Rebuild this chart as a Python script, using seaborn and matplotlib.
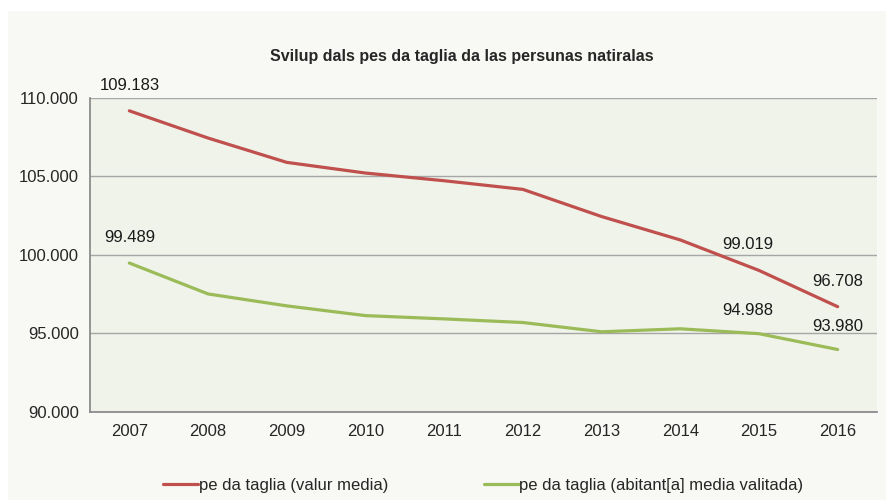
import pandas as pd
import matplotlib.pyplot as plt
import matplotlib.ticker as mticker
from matplotlib.patches import Rectangle
import seaborn as sns

years = ['2007', '2008', '2009', '2010', '2011', '2012', '2013', '2014', '2015', '2016']
valur_media = [109183, 107450, 105900, 105220, 104730, 104180, 102450, 100960, 99019, 96708]
abitant_media = [99489, 97520, 96760, 96140, 95930, 95700, 95110, 95300, 94988, 93980]
series_names = ['pe da taglia (valur media)', 'pe da taglia (abitant[a] media valitada)']

# values that get a label on the chart
labels_red = {'2007': 109183, '2015': 99019, '2016': 96708}
labels_green = {'2007': 99489, '2015': 94988, '2016': 93980}

sns.set_theme(style='white')
plt.rcParams['font.family'] = ['Liberation Sans', 'DejaVu Sans']

df = pd.DataFrame({
    'pos': list(range(len(years))) * 2,
    'year': years * 2,
    'value': valur_media + abitant_media,
    'serie': [series_names[0]] * len(years) + [series_names[1]] * len(years),
})

fig = plt.figure(figsize=(8.86, 5), dpi=100, facecolor='white')
fig.patches.append(Rectangle((8 / 886, 0), 1, 1 - 11 / 500, transform=fig.transFigure,
                             facecolor='#f8f9f5', edgecolor='none', zorder=-1))
ax = fig.add_axes([90 / 886, 88 / 500, 787 / 886, 314 / 500])
ax.set_facecolor('#eff3ea')

sns.lineplot(data=df, x='pos', y='value', hue='serie',
             palette=['#c0504d', '#9bbb59'], linewidth=2.3, ax=ax)

for lab, col in [(labels_red, '#c0504d'), (labels_green, '#9bbb59')]:
    for y, v in lab.items():
        i = years.index(y)
        dx = -8 if y == '2015' else 0
        dy = 11 if lab is labels_green and y != '2007' else 13
        txt = f'{v:,}'.replace(',', '.')
        ax.annotate(txt, (i, v), xytext=(dx, dy), textcoords='offset points',
                    ha='center', va='bottom', fontsize=12, color='#1a1a1a')

ax.set_xlim(-0.5, len(years) - 0.5)
ax.set_ylim(90000, 110000)
ax.set_yticks([90000, 95000, 100000, 105000, 110000])
ax.yaxis.set_major_formatter(mticker.FuncFormatter(lambda v, p: f'{int(v):,}'.replace(',', '.')))
ax.set_xticks(range(len(years)))
ax.set_xticklabels(years)
ax.set_xticks([i - 0.5 for i in range(len(years) + 1)], minor=True)
ax.tick_params(axis='x', which='major', length=0, pad=9, labelsize=12)
ax.tick_params(axis='x', which='minor', length=5, color='#888888')
ax.tick_params(axis='y', length=5, color='#888888', labelsize=12, pad=3)
ax.grid(axis='y', color='#a6a6a6', linewidth=1)
ax.set_axisbelow(True)
for s in ['top', 'right']:
    ax.spines[s].set_visible(False)
for s in ['left', 'bottom']:
    ax.spines[s].set_color('#888888')
ax.set_xlabel('')
ax.set_ylabel('')

fig.text(462 / 886, 1 - 57 / 500, 'Svilup dals pes da taglia da las persunas natiralas',
         ha='center', va='center', fontsize=11.5, fontweight='bold')

ax.legend(loc='center', bbox_to_anchor=(0.5, -0.235), ncol=2, frameon=False,
          fontsize=12, handlelength=2.1, handletextpad=0.05, columnspacing=5.7)

fig.savefig('out.png', dpi=100, facecolor='white')
